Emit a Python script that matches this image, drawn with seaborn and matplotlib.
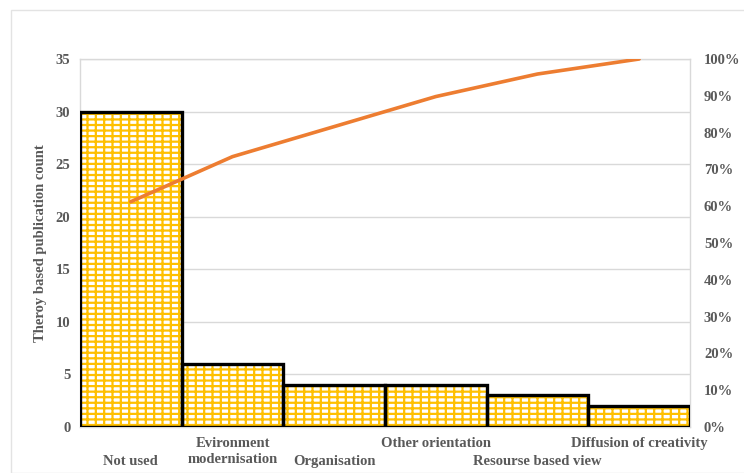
import numpy as np
import matplotlib
matplotlib.use('Agg')
import matplotlib.pyplot as plt
import seaborn as sns
from matplotlib.patches import Rectangle
from matplotlib.ticker import PercentFormatter

categories = ['Not used', 'Evironment\nmodernisation', 'Organisation',
              'Other orientation', 'Resourse based view', 'Diffusion of creativity']
counts = [30, 6, 4, 4, 3, 2]
# Excel staggers the labels: 0 = lower row, 1 = upper row
label_row = [0, 1, 0, 1, 0, 1]

cum_pct = np.cumsum(counts) / np.sum(counts) * 100

sns.set_theme(style='white')
plt.rcParams['font.family'] = ['Liberation Serif', 'DejaVu Serif']
plt.rcParams['font.weight'] = 'bold'
plt.rcParams['hatch.linewidth'] = 1.6

text_col = '#595959'
grid_col = '#d9d9d9'
fs = 10.5

fig = plt.figure(figsize=(7.44, 4.73), dpi=100)
fig.patches.append(Rectangle((11 / 744, 0), 1, 1 - 10 / 473, transform=fig.transFigure,
                             fill=False, edgecolor='#e3e3e3', linewidth=1))
ax = fig.add_axes([80 / 744, 46 / 473, 610 / 744, 368 / 473])

pos = np.arange(len(categories))
# yellow brick fill, then black outlines on top
sns.barplot(x=pos, y=counts, ax=ax, width=1, color='white', edgecolor='#FFC000',
            linewidth=0, hatch='---||', native_scale=True, zorder=2)
sns.barplot(x=pos, y=counts, ax=ax, width=1, fill=False, edgecolor='black',
            linewidth=2.4, native_scale=True, zorder=3)

ax.set_xlim(-0.5, len(categories) - 0.5)
ax.set_ylim(0, 35)
ax.set_yticks(range(0, 36, 5))
ax.yaxis.grid(True, color=grid_col, linewidth=1, zorder=0)
ax.set_axisbelow(True)
ax.set_xticks(pos)
ax.set_xticklabels([])
ax.tick_params(axis='x', length=0)
for i, (cat, row) in enumerate(zip(categories, label_row)):
    y = -10 / 368 if row == 1 or '\n' in cat else -28 / 368
    ax.text(i, y, cat, transform=ax.get_xaxis_transform(), ha='center', va='top',
            fontsize=fs, color=text_col, fontweight='bold', linespacing=1.3)
ax.tick_params(axis='y', length=0, pad=7, labelsize=fs, labelcolor=text_col)
for lab in ax.get_yticklabels():
    lab.set_fontweight('bold')
ax.set_ylabel('Theroy based publication count', fontsize=fs, color=text_col,
              fontweight='bold', labelpad=6)
ax.set_xlabel('')
for s in ax.spines.values():
    s.set_color(grid_col)
    s.set_linewidth(1)

ax2 = ax.twinx()
sns.lineplot(x=pos, y=cum_pct, ax=ax2, color='#ED7D31', linewidth=2.6)
ax2.set_ylim(0, 100)
ax2.set_yticks(range(0, 101, 10))
ax2.yaxis.set_major_formatter(PercentFormatter(decimals=0))
ax2.tick_params(axis='y', length=0, pad=10, labelsize=fs, labelcolor=text_col)
for lab in ax2.get_yticklabels():
    lab.set_fontweight('bold')
ax2.set_ylabel('')
for s in ax2.spines.values():
    s.set_visible(False)

fig.savefig('out.png', dpi=100)
